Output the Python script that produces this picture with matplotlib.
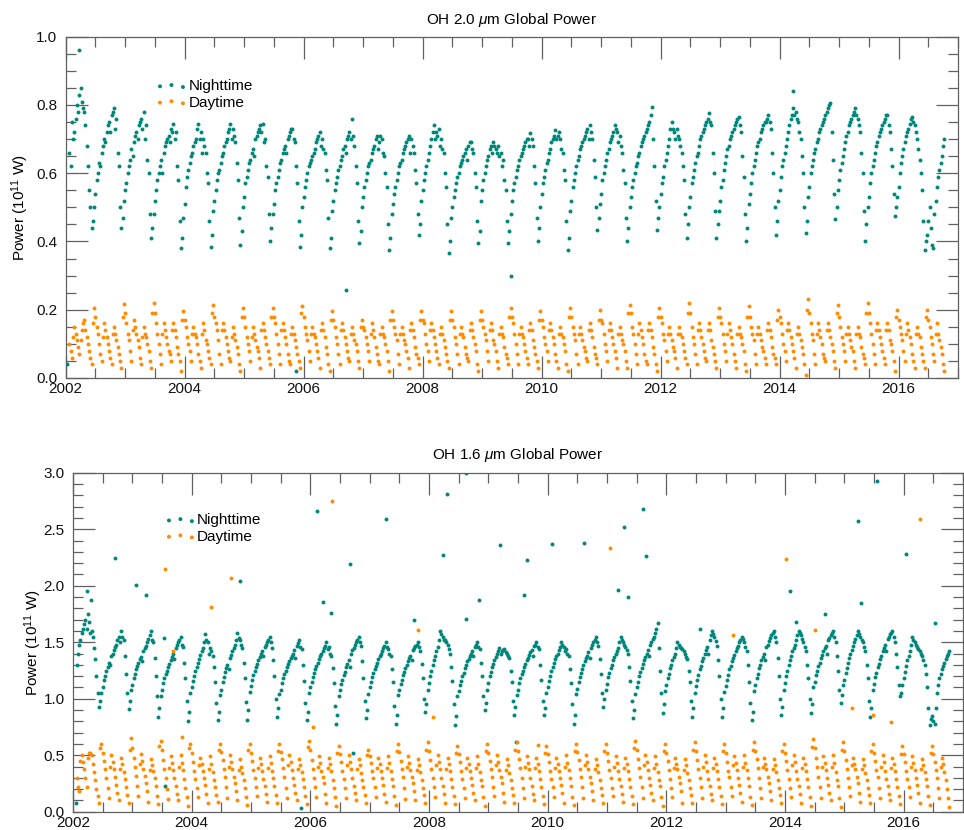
import numpy as np
import matplotlib
matplotlib.use("Agg")
import matplotlib.pyplot as plt
from matplotlib.ticker import MultipleLocator, FormatStrFormatter

plt.rcParams['font.family'] = ['Liberation Sans', 'DejaVu Sans']
plt.rcParams['mathtext.fontset'] = 'custom'
plt.rcParams['mathtext.rm'] = 'Liberation Sans'
plt.rcParams['mathtext.it'] = 'Liberation Sans:italic'

# ---- sampling: start date (decimal year) and step (years); "_b" lists are offset by half a step ----
T0 = 2002.0625
STEP = 1.0 / 24.0

# ---- OH 2.0 um, nighttime ----
top_night = [
    0.66, 0.75, 0.72, 0.80, 0.83, 0.81, 0.78, 0.68, 0.55, 0.44,
    0.50, 0.58, 0.63, 0.66, 0.70, 0.72, 0.75, 0.77, 0.79, 0.76, 0.62, 0.44,
    0.52, 0.57, 0.62, 0.67, 0.69, 0.72, 0.74, 0.76, 0.78, 0.74, 0.60, 0.41,
    0.48, 0.55, 0.60, 0.64, 0.66, 0.69, 0.71, 0.73, 0.745, 0.72, 0.58, 0.38,
    0.47, 0.56, 0.61, 0.65, 0.68, 0.70, 0.745, 0.72, 0.70, 0.66, 0.57, 0.385,
    0.49, 0.55, 0.60, 0.63, 0.66, 0.69, 0.72, 0.745, 0.73, 0.69, 0.58, 0.39,
    0.50, 0.57, 0.61, 0.64, 0.67, 0.70, 0.72, 0.74, 0.745, 0.70, 0.59, 0.40,
    0.48, 0.55, 0.59, 0.63, 0.66, 0.68, 0.70, 0.72, 0.73, 0.69, 0.57, 0.385,
    0.50, 0.56, 0.60, 0.63, 0.65, 0.67, 0.70, 0.72, 0.70, 0.66, 0.58, 0.38,
    0.49, 0.55, 0.59, 0.62, 0.65, 0.68, 0.70, 0.72, 0.76, 0.68, 0.57, 0.395,
    0.50, 0.56, 0.60, 0.63, 0.66, 0.68, 0.71, 0.69, 0.70, 0.65, 0.56, 0.375,
    0.48, 0.54, 0.58, 0.62, 0.64, 0.67, 0.69, 0.71, 0.70, 0.66, 0.57, 0.42,
    0.52, 0.58, 0.62, 0.66, 0.70, 0.74, 0.72, 0.73, 0.70, 0.66, 0.56, 0.365,
    0.47, 0.53, 0.57, 0.60, 0.63, 0.65, 0.67, 0.68, 0.69, 0.66, 0.56, 0.395,
    0.52, 0.58, 0.62, 0.65, 0.68, 0.69, 0.67, 0.68, 0.66, 0.64, 0.55, 0.395,
    0.48, 0.55, 0.59, 0.62, 0.65, 0.67, 0.69, 0.70, 0.717, 0.68, 0.57, 0.40,
    0.50, 0.57, 0.61, 0.64, 0.67, 0.70, 0.727, 0.71, 0.70, 0.66, 0.58, 0.375,
    0.49, 0.56, 0.60, 0.64, 0.67, 0.69, 0.71, 0.73, 0.74, 0.70, 0.59, 0.435,
    0.51, 0.58, 0.62, 0.66, 0.69, 0.71, 0.74, 0.72, 0.71, 0.66, 0.57, 0.40,
    0.50, 0.56, 0.60, 0.63, 0.66, 0.69, 0.71, 0.73, 0.75, 0.795, 0.62, 0.435,
    0.50, 0.57, 0.62, 0.66, 0.70, 0.75, 0.72, 0.73, 0.70, 0.66, 0.58, 0.41,
    0.50, 0.57, 0.61, 0.65, 0.68, 0.71, 0.73, 0.75, 0.775, 0.74, 0.60, 0.41,
    0.49, 0.56, 0.61, 0.65, 0.68, 0.71, 0.73, 0.75, 0.765, 0.72, 0.59, 0.40,
    0.51, 0.57, 0.62, 0.66, 0.69, 0.72, 0.74, 0.75, 0.77, 0.73, 0.60, 0.42,
    0.52, 0.59, 0.64, 0.68, 0.72, 0.76, 0.79, 0.78, 0.75, 0.70, 0.60, 0.425,
    0.53, 0.60, 0.64, 0.67, 0.70, 0.73, 0.75, 0.77, 0.79, 0.805, 0.64, 0.465,
    0.55, 0.61, 0.65, 0.69, 0.72, 0.75, 0.77, 0.79, 0.76, 0.72, 0.60, 0.40,
    0.50, 0.57, 0.62, 0.66, 0.69, 0.72, 0.74, 0.76, 0.77, 0.72, 0.62, 0.475,
    0.53, 0.60, 0.65, 0.69, 0.72, 0.745, 0.765, 0.74, 0.70, 0.64, 0.55, 0.375,
    0.42, 0.50, 0.39, 0.48, 0.56, 0.61, 0.65, 0.70,
]
top_night_b = [
    0.62, 0.70, 0.76, 0.78, 0.85, 0.79, 0.74, 0.62, 0.50, 0.46,
    0.54, 0.60, 0.62, 0.68, 0.69, 0.74, 0.72, 0.78, 0.73, 0.66, 0.50, 0.47,
    0.55, 0.60, 0.64, 0.65, 0.71, 0.70, 0.75, 0.73, 0.70, 0.64, 0.48, 0.44,
    0.52, 0.58, 0.62, 0.60, 0.68, 0.70, 0.69, 0.72, 0.70, 0.62, 0.46, 0.41,
    0.51, 0.59, 0.63, 0.66, 0.69, 0.73, 0.70, 0.66, 0.68, 0.60, 0.46, 0.42,
    0.52, 0.58, 0.61, 0.65, 0.68, 0.70, 0.73, 0.70, 0.71, 0.63, 0.47, 0.43,
    0.53, 0.59, 0.63, 0.66, 0.65, 0.71, 0.73, 0.72, 0.69, 0.62, 0.48, 0.44,
    0.51, 0.57, 0.61, 0.64, 0.67, 0.66, 0.71, 0.73, 0.70, 0.62, 0.46, 0.42,
    0.53, 0.58, 0.62, 0.64, 0.66, 0.69, 0.71, 0.68, 0.67, 0.61, 0.47, 0.41,
    0.52, 0.57, 0.61, 0.64, 0.67, 0.66, 0.71, 0.70, 0.71, 0.62, 0.46, 0.43,
    0.53, 0.58, 0.62, 0.64, 0.67, 0.70, 0.67, 0.71, 0.66, 0.60, 0.45, 0.41,
    0.51, 0.56, 0.60, 0.63, 0.66, 0.68, 0.70, 0.66, 0.68, 0.61, 0.48, 0.45,
    0.55, 0.60, 0.64, 0.68, 0.72, 0.70, 0.71, 0.68, 0.67, 0.60, 0.45, 0.40,
    0.50, 0.55, 0.59, 0.62, 0.64, 0.66, 0.64, 0.69, 0.67, 0.60, 0.46, 0.43,
    0.55, 0.60, 0.64, 0.67, 0.66, 0.68, 0.66, 0.65, 0.62, 0.58, 0.46, 0.43,
    0.52, 0.57, 0.61, 0.64, 0.66, 0.68, 0.70, 0.68, 0.70, 0.62, 0.47, 0.44,
    0.54, 0.59, 0.63, 0.66, 0.69, 0.71, 0.70, 0.72, 0.67, 0.61, 0.46, 0.41,
    0.52, 0.58, 0.62, 0.65, 0.68, 0.70, 0.72, 0.70, 0.72, 0.64, 0.50, 0.47,
    0.54, 0.60, 0.64, 0.67, 0.70, 0.72, 0.73, 0.69, 0.68, 0.61, 0.47, 0.44,
    0.53, 0.58, 0.62, 0.65, 0.68, 0.70, 0.72, 0.74, 0.77, 0.70, 0.52, 0.47,
    0.54, 0.59, 0.64, 0.68, 0.73, 0.73, 0.70, 0.71, 0.68, 0.62, 0.48, 0.45,
    0.53, 0.59, 0.63, 0.66, 0.70, 0.72, 0.74, 0.76, 0.75, 0.66, 0.49, 0.45,
    0.52, 0.58, 0.63, 0.67, 0.70, 0.72, 0.74, 0.76, 0.74, 0.65, 0.48, 0.44,
    0.54, 0.60, 0.64, 0.68, 0.70, 0.73, 0.75, 0.76, 0.75, 0.66, 0.50, 0.46,
    0.55, 0.62, 0.66, 0.70, 0.74, 0.77, 0.77, 0.76, 0.72, 0.65, 0.50, 0.46,
    0.56, 0.62, 0.66, 0.69, 0.72, 0.74, 0.76, 0.78, 0.80, 0.72, 0.54, 0.50,
    0.58, 0.63, 0.67, 0.71, 0.74, 0.76, 0.78, 0.77, 0.74, 0.66, 0.49, 0.45,
    0.53, 0.60, 0.64, 0.68, 0.71, 0.73, 0.75, 0.77, 0.74, 0.67, 0.54, 0.50,
    0.56, 0.63, 0.67, 0.71, 0.73, 0.76, 0.75, 0.72, 0.67, 0.60, 0.46, 0.40,
    0.46, 0.44, 0.38, 0.52, 0.59, 0.63, 0.68,
]

# ---- OH 2.0 um, daytime ----
top_day = [
    0.10, 0.06, 0.15, 0.11, 0.07, 0.14, 0.17, 0.12, 0.08, 0.04,
    0.205, 0.15, 0.10, 0.05, 0.16, 0.12, 0.08, 0.04, 0.15, 0.11, 0.07, 0.03,
    0.218, 0.16, 0.11, 0.05, 0.17, 0.13, 0.09, 0.04, 0.15, 0.12, 0.08, 0.03,
    0.22, 0.16, 0.10, 0.04, 0.16, 0.12, 0.08, 0.05, 0.16, 0.12, 0.07, 0.02,
    0.195, 0.15, 0.10, 0.05, 0.15, 0.12, 0.07, 0.03, 0.16, 0.11, 0.08, 0.04,
    0.215, 0.16, 0.11, 0.04, 0.16, 0.12, 0.08, 0.05, 0.15, 0.11, 0.07, 0.02,
    0.205, 0.15, 0.10, 0.05, 0.15, 0.11, 0.08, 0.03, 0.16, 0.12, 0.08, 0.04,
    0.205, 0.16, 0.10, 0.04, 0.16, 0.12, 0.07, 0.04, 0.15, 0.11, 0.07, 0.03,
    0.21, 0.15, 0.11, 0.05, 0.15, 0.12, 0.08, 0.03, 0.16, 0.12, 0.07, 0.02,
    0.195, 0.15, 0.10, 0.04, 0.16, 0.12, 0.08, 0.05, 0.15, 0.11, 0.08, 0.03,
    0.17, 0.14, 0.10, 0.05, 0.16, 0.12, 0.07, 0.04, 0.15, 0.12, 0.08, 0.02,
    0.195, 0.15, 0.11, 0.04, 0.15, 0.11, 0.08, 0.03, 0.16, 0.12, 0.07, 0.04,
    0.195, 0.16, 0.10, 0.05, 0.16, 0.12, 0.08, 0.04, 0.15, 0.11, 0.07, 0.03,
    0.195, 0.15, 0.10, 0.04, 0.15, 0.12, 0.07, 0.05, 0.16, 0.12, 0.08, 0.02,
    0.195, 0.15, 0.11, 0.05, 0.16, 0.11, 0.08, 0.03, 0.15, 0.12, 0.07, 0.04,
    0.205, 0.16, 0.10, 0.04, 0.15, 0.12, 0.08, 0.04, 0.16, 0.11, 0.07, 0.03,
    0.195, 0.15, 0.10, 0.05, 0.16, 0.12, 0.07, 0.03, 0.15, 0.12, 0.08, 0.02,
    0.205, 0.15, 0.11, 0.04, 0.15, 0.11, 0.08, 0.05, 0.16, 0.12, 0.07, 0.04,
    0.20, 0.16, 0.10, 0.05, 0.16, 0.12, 0.08, 0.03, 0.15, 0.11, 0.08, 0.03,
    0.215, 0.15, 0.10, 0.04, 0.16, 0.12, 0.07, 0.04, 0.16, 0.12, 0.07, 0.02,
    0.205, 0.16, 0.11, 0.05, 0.15, 0.11, 0.08, 0.03, 0.15, 0.12, 0.08, 0.04,
    0.22, 0.15, 0.10, 0.04, 0.16, 0.12, 0.08, 0.05, 0.16, 0.11, 0.07, 0.03,
    0.205, 0.16, 0.10, 0.05, 0.16, 0.12, 0.07, 0.03, 0.15, 0.12, 0.08, 0.02,
    0.21, 0.15, 0.11, 0.04, 0.15, 0.11, 0.08, 0.04, 0.16, 0.12, 0.07, 0.04,
    0.20, 0.16, 0.10, 0.05, 0.16, 0.12, 0.08, 0.03, 0.15, 0.11, 0.07, 0.01,
    0.23, 0.16, 0.11, 0.04, 0.16, 0.12, 0.07, 0.05, 0.16, 0.12, 0.08, 0.03,
    0.215, 0.15, 0.10, 0.05, 0.15, 0.11, 0.08, 0.03, 0.15, 0.12, 0.07, 0.04,
    0.22, 0.16, 0.10, 0.04, 0.16, 0.12, 0.08, 0.04, 0.16, 0.11, 0.08, 0.02,
    0.20, 0.15, 0.11, 0.05, 0.16, 0.12, 0.07, 0.03, 0.15, 0.12, 0.07, 0.03,
    0.20, 0.15, 0.10, 0.05, 0.16, 0.11, 0.07, 0.02,
]
top_day_b = [
    0.08, 0.12, 0.13, 0.09, 0.11, 0.16, 0.14, 0.10, 0.06, 0.16,
    0.18, 0.13, 0.07, 0.12, 0.14, 0.10, 0.06, 0.13, 0.13, 0.09, 0.05, 0.18,
    0.19, 0.13, 0.08, 0.14, 0.15, 0.11, 0.06, 0.12, 0.13, 0.10, 0.05, 0.19,
    0.19, 0.13, 0.07, 0.13, 0.14, 0.10, 0.07, 0.14, 0.14, 0.09, 0.05, 0.17,
    0.17, 0.12, 0.08, 0.13, 0.13, 0.10, 0.05, 0.13, 0.14, 0.10, 0.06, 0.19,
    0.18, 0.14, 0.07, 0.14, 0.14, 0.10, 0.06, 0.12, 0.13, 0.09, 0.04, 0.18,
    0.18, 0.12, 0.08, 0.12, 0.13, 0.09, 0.06, 0.14, 0.14, 0.10, 0.06, 0.18,
    0.18, 0.13, 0.07, 0.14, 0.14, 0.10, 0.05, 0.13, 0.13, 0.09, 0.05, 0.19,
    0.18, 0.13, 0.08, 0.13, 0.13, 0.10, 0.06, 0.14, 0.14, 0.09, 0.04, 0.17,
    0.17, 0.12, 0.07, 0.14, 0.14, 0.10, 0.06, 0.13, 0.13, 0.10, 0.05, 0.15,
    0.15, 0.12, 0.08, 0.13, 0.14, 0.09, 0.05, 0.13, 0.13, 0.10, 0.05, 0.17,
    0.17, 0.13, 0.07, 0.13, 0.13, 0.10, 0.06, 0.14, 0.14, 0.09, 0.06, 0.17,
    0.17, 0.13, 0.08, 0.14, 0.14, 0.10, 0.06, 0.13, 0.13, 0.09, 0.05, 0.17,
    0.17, 0.12, 0.07, 0.13, 0.13, 0.09, 0.06, 0.14, 0.14, 0.10, 0.04, 0.17,
    0.17, 0.13, 0.08, 0.14, 0.14, 0.10, 0.05, 0.13, 0.13, 0.09, 0.06, 0.18,
    0.18, 0.13, 0.07, 0.13, 0.13, 0.10, 0.06, 0.14, 0.14, 0.09, 0.05, 0.17,
    0.17, 0.12, 0.08, 0.14, 0.14, 0.10, 0.05, 0.13, 0.13, 0.10, 0.04, 0.18,
    0.18, 0.13, 0.07, 0.13, 0.13, 0.09, 0.06, 0.14, 0.14, 0.09, 0.06, 0.17,
    0.17, 0.13, 0.08, 0.14, 0.14, 0.10, 0.06, 0.13, 0.13, 0.10, 0.05, 0.19,
    0.19, 0.13, 0.07, 0.13, 0.14, 0.10, 0.05, 0.14, 0.14, 0.09, 0.04, 0.18,
    0.18, 0.13, 0.08, 0.13, 0.13, 0.09, 0.06, 0.13, 0.13, 0.10, 0.06, 0.19,
    0.19, 0.12, 0.07, 0.14, 0.14, 0.10, 0.06, 0.14, 0.14, 0.09, 0.05, 0.18,
    0.18, 0.13, 0.08, 0.13, 0.14, 0.10, 0.05, 0.13, 0.13, 0.10, 0.04, 0.18,
    0.18, 0.13, 0.07, 0.13, 0.13, 0.09, 0.06, 0.14, 0.14, 0.09, 0.06, 0.17,
    0.18, 0.13, 0.08, 0.14, 0.14, 0.10, 0.06, 0.13, 0.13, 0.09, 0.04, 0.20,
    0.19, 0.13, 0.07, 0.13, 0.14, 0.10, 0.06, 0.14, 0.14, 0.10, 0.05, 0.19,
    0.18, 0.12, 0.08, 0.13, 0.13, 0.09, 0.05, 0.13, 0.13, 0.09, 0.06, 0.19,
    0.19, 0.13, 0.07, 0.14, 0.14, 0.10, 0.06, 0.14, 0.14, 0.10, 0.05, 0.18,
    0.17, 0.13, 0.08, 0.13, 0.14, 0.10, 0.05, 0.13, 0.13, 0.09, 0.05, 0.18,
    0.17, 0.12, 0.07, 0.13, 0.13, 0.09, 0.04,
]

# isolated points, OH 2.0 um
top_night_out_t = [2002.02, 2002.23, 2005.87, 2006.72, 2009.48, 2014.23]
top_night_out_v = [0.04, 0.96, 0.021, 0.257, 0.30, 0.84]

# ---- OH 1.6 um, nighttime ----
bot_night = [
    1.30, 1.48, 1.58, 1.66, 1.62, 1.68, 1.60, 1.45, 1.20, 0.93,
    1.05, 1.17, 1.25, 1.32, 1.38, 1.43, 1.48, 1.55, 1.60, 1.52, 1.22, 0.91,
    1.08, 1.18, 1.26, 1.32, 1.37, 1.42, 1.47, 1.53, 1.60, 1.50, 1.20, 0.84,
    1.02, 1.14, 1.22, 1.28, 1.34, 1.40, 1.45, 1.50, 1.55, 1.46, 1.18, 0.80,
    1.05, 1.16, 1.25, 1.32, 1.39, 1.45, 1.57, 1.50, 1.45, 1.38, 1.15, 0.81,
    1.03, 1.15, 1.24, 1.30, 1.36, 1.42, 1.48, 1.58, 1.52, 1.45, 1.18, 0.81,
    1.06, 1.17, 1.25, 1.31, 1.37, 1.42, 1.46, 1.50, 1.55, 1.45, 1.20, 0.84,
    1.04, 1.14, 1.22, 1.28, 1.33, 1.38, 1.43, 1.47, 1.52, 1.44, 1.16, 0.81,
    1.05, 1.15, 1.23, 1.29, 1.35, 1.40, 1.45, 1.50, 1.46, 1.38, 1.14, 0.78,
    1.02, 1.13, 1.21, 1.28, 1.34, 1.40, 1.45, 1.50, 1.55, 1.47, 1.18, 0.83,
    1.04, 1.15, 1.23, 1.29, 1.35, 1.40, 1.45, 1.50, 1.44, 1.38, 1.15, 0.78,
    1.03, 1.13, 1.21, 1.27, 1.33, 1.38, 1.43, 1.47, 1.50, 1.42, 1.18, 0.88,
    1.08, 1.20, 1.30, 1.38, 1.46, 1.60, 1.55, 1.52, 1.48, 1.40, 1.16, 0.77,
    1.02, 1.12, 1.20, 1.27, 1.33, 1.38, 1.42, 1.46, 1.50, 1.44, 1.20, 0.90,
    1.08, 1.20, 1.28, 1.34, 1.40, 1.45, 1.42, 1.44, 1.40, 1.36, 1.15, 0.855,
    1.03, 1.14, 1.22, 1.28, 1.34, 1.39, 1.43, 1.47, 1.50, 1.44, 1.17, 0.855,
    1.05, 1.16, 1.25, 1.32, 1.38, 1.43, 1.50, 1.46, 1.44, 1.38, 1.14, 0.78,
    1.04, 1.15, 1.23, 1.30, 1.36, 1.41, 1.45, 1.50, 1.55, 1.47, 1.22, 0.93,
    1.08, 1.19, 1.27, 1.34, 1.40, 1.45, 1.55, 1.50, 1.46, 1.40, 1.16, 0.83,
    1.04, 1.15, 1.24, 1.31, 1.37, 1.43, 1.48, 1.53, 1.58, 1.67, 1.25, 0.87,
    1.07, 1.18, 1.27, 1.34, 1.40, 1.50, 1.46, 1.44, 1.40, 1.35, 1.15, 0.84,
    1.05, 1.17, 1.26, 1.33, 1.40, 1.46, 1.52, 1.60, 1.55, 1.47, 1.20, 0.84,
    1.06, 1.17, 1.26, 1.33, 1.39, 1.45, 1.50, 1.55, 1.50, 1.42, 1.15, 0.81,
    1.07, 1.18, 1.27, 1.34, 1.40, 1.46, 1.51, 1.56, 1.60, 1.50, 1.20, 0.855,
    1.08, 1.20, 1.30, 1.38, 1.45, 1.52, 1.60, 1.56, 1.50, 1.42, 1.18, 0.87,
    1.10, 1.21, 1.29, 1.36, 1.42, 1.47, 1.52, 1.56, 1.60, 1.50, 1.25, 0.96,
    1.12, 1.23, 1.32, 1.40, 1.47, 1.53, 1.60, 1.55, 1.50, 1.42, 1.18, 0.84,
    1.08, 1.19, 1.28, 1.35, 1.42, 1.48, 1.53, 1.57, 1.60, 1.50, 1.28, 1.02,
    1.12, 1.24, 1.34, 1.42, 1.55, 1.50, 1.46, 1.42, 1.38, 1.30, 1.10, 0.77,
    0.85, 0.78, 1.05, 1.18, 1.26, 1.32, 1.38, 1.42,
]
bot_night_b = [
    1.40, 1.52, 1.62, 1.70, 1.75, 1.58, 1.55, 1.35, 1.05, 0.98,
    1.10, 1.20, 1.28, 1.30, 1.40, 1.46, 1.52, 1.50, 1.55, 1.38, 1.05, 0.98,
    1.12, 1.22, 1.29, 1.35, 1.33, 1.45, 1.50, 1.56, 1.52, 1.36, 1.02, 0.92,
    1.08, 1.18, 1.25, 1.31, 1.37, 1.35, 1.48, 1.52, 1.48, 1.32, 0.98, 0.88,
    1.10, 1.20, 1.28, 1.35, 1.42, 1.50, 1.52, 1.40, 1.42, 1.28, 0.96, 0.88,
    1.08, 1.19, 1.27, 1.26, 1.39, 1.45, 1.52, 1.54, 1.48, 1.32, 0.97, 0.90,
    1.11, 1.21, 1.28, 1.34, 1.40, 1.38, 1.48, 1.52, 1.50, 1.34, 1.00, 0.92,
    1.08, 1.18, 1.25, 1.31, 1.36, 1.40, 1.36, 1.49, 1.46, 1.30, 0.96, 0.88,
    1.10, 1.19, 1.26, 1.32, 1.38, 1.42, 1.47, 1.44, 1.40, 1.27, 0.94, 0.86,
    1.08, 1.17, 1.24, 1.31, 1.28, 1.43, 1.48, 1.52, 1.50, 1.33, 0.98, 0.90,
    1.10, 1.19, 1.26, 1.32, 1.38, 1.42, 1.47, 1.46, 1.40, 1.26, 0.94, 0.86,
    1.08, 1.17, 1.24, 1.30, 1.36, 1.34, 1.45, 1.48, 1.46, 1.31, 1.00, 0.95,
    1.14, 1.25, 1.34, 1.42, 1.52, 1.57, 1.52, 1.50, 1.44, 1.28, 0.95, 0.85,
    1.07, 1.16, 1.23, 1.30, 1.35, 1.40, 1.38, 1.48, 1.46, 1.32, 1.02, 0.96,
    1.14, 1.24, 1.31, 1.37, 1.42, 1.40, 1.43, 1.41, 1.38, 1.25, 0.98, 0.93,
    1.08, 1.18, 1.25, 1.31, 1.36, 1.41, 1.38, 1.48, 1.46, 1.30, 0.98, 0.92,
    1.10, 1.20, 1.28, 1.35, 1.40, 1.46, 1.48, 1.42, 1.40, 1.26, 0.95, 0.86,
    1.09, 1.19, 1.26, 1.33, 1.38, 1.36, 1.48, 1.52, 1.50, 1.35, 1.05, 1.00,
    1.13, 1.23, 1.30, 1.37, 1.42, 1.50, 1.52, 1.48, 1.43, 1.28, 0.98, 0.90,
    1.10, 1.20, 1.27, 1.34, 1.40, 1.38, 1.50, 1.55, 1.62, 1.45, 1.05, 0.95,
    1.12, 1.22, 1.30, 1.37, 1.45, 1.48, 1.45, 1.42, 1.37, 1.25, 0.98, 0.92,
    1.11, 1.21, 1.29, 1.36, 1.43, 1.40, 1.56, 1.57, 1.51, 1.34, 1.00, 0.92,
    1.11, 1.21, 1.29, 1.36, 1.42, 1.47, 1.52, 1.53, 1.46, 1.30, 0.96, 0.88,
    1.12, 1.22, 1.30, 1.37, 1.34, 1.48, 1.54, 1.58, 1.55, 1.36, 1.00, 0.93,
    1.14, 1.25, 1.34, 1.42, 1.48, 1.56, 1.58, 1.53, 1.46, 1.30, 1.00, 0.95,
    1.15, 1.25, 1.32, 1.39, 1.45, 1.40, 1.54, 1.58, 1.55, 1.38, 1.08, 1.03,
    1.17, 1.27, 1.36, 1.43, 1.50, 1.56, 1.57, 1.52, 1.46, 1.30, 0.98, 0.92,
    1.13, 1.23, 1.31, 1.38, 1.45, 1.42, 1.55, 1.58, 1.55, 1.40, 1.12, 1.05,
    1.18, 1.29, 1.38, 1.48, 1.52, 1.48, 1.44, 1.40, 1.34, 1.22, 0.92, 0.82,
    0.80, 0.92, 1.12, 1.22, 1.29, 1.35, 1.40,
]

# ---- OH 1.6 um, daytime ----
bot_day = [
    0.30, 0.18, 0.50, 0.38, 0.22, 0.52, 0.50, 0.35, 0.20, 0.08,
    0.60, 0.45, 0.30, 0.12, 0.50, 0.38, 0.24, 0.10, 0.48, 0.35, 0.22, 0.08,
    0.65, 0.48, 0.32, 0.14, 0.51, 0.38, 0.25, 0.09, 0.47, 0.36, 0.23, 0.07,
    0.63, 0.46, 0.30, 0.11, 0.49, 0.37, 0.23, 0.10, 0.50, 0.37, 0.21, 0.05,
    0.60, 0.44, 0.29, 0.13, 0.48, 0.36, 0.24, 0.08, 0.49, 0.35, 0.22, 0.09,
    0.60, 0.46, 0.31, 0.12, 0.50, 0.38, 0.25, 0.10, 0.47, 0.34, 0.21, 0.06,
    0.60, 0.45, 0.30, 0.14, 0.48, 0.36, 0.23, 0.09, 0.49, 0.36, 0.23, 0.08,
    0.60, 0.47, 0.31, 0.12, 0.50, 0.37, 0.24, 0.10, 0.47, 0.35, 0.22, 0.07,
    0.63, 0.46, 0.30, 0.13, 0.49, 0.36, 0.25, 0.08, 0.48, 0.36, 0.21, 0.05,
    0.58, 0.44, 0.29, 0.12, 0.50, 0.38, 0.23, 0.10, 0.47, 0.34, 0.22, 0.08,
    0.55, 0.43, 0.30, 0.13, 0.48, 0.36, 0.24, 0.09, 0.49, 0.36, 0.23, 0.06,
    0.60, 0.45, 0.31, 0.11, 0.49, 0.37, 0.25, 0.10, 0.47, 0.35, 0.21, 0.08,
    0.62, 0.46, 0.30, 0.13, 0.50, 0.38, 0.23, 0.08, 0.48, 0.36, 0.22, 0.07,
    0.58, 0.44, 0.29, 0.12, 0.48, 0.36, 0.24, 0.10, 0.49, 0.35, 0.23, 0.05,
    0.60, 0.45, 0.31, 0.14, 0.50, 0.37, 0.25, 0.09, 0.47, 0.34, 0.21, 0.08,
    0.62, 0.47, 0.30, 0.12, 0.49, 0.38, 0.23, 0.10, 0.48, 0.36, 0.22, 0.07,
    0.58, 0.44, 0.29, 0.13, 0.48, 0.36, 0.24, 0.08, 0.50, 0.37, 0.23, 0.06,
    0.60, 0.46, 0.31, 0.12, 0.50, 0.38, 0.25, 0.10, 0.47, 0.35, 0.21, 0.08,
    0.60, 0.45, 0.30, 0.14, 0.49, 0.36, 0.23, 0.09, 0.48, 0.36, 0.22, 0.07,
    0.63, 0.47, 0.31, 0.12, 0.50, 0.37, 0.24, 0.10, 0.49, 0.35, 0.23, 0.05,
    0.60, 0.45, 0.29, 0.13, 0.48, 0.38, 0.25, 0.08, 0.47, 0.34, 0.21, 0.08,
    0.62, 0.46, 0.30, 0.12, 0.50, 0.36, 0.23, 0.10, 0.48, 0.36, 0.22, 0.07,
    0.60, 0.44, 0.31, 0.14, 0.49, 0.37, 0.24, 0.09, 0.50, 0.37, 0.23, 0.06,
    0.62, 0.47, 0.30, 0.12, 0.48, 0.38, 0.25, 0.10, 0.47, 0.35, 0.21, 0.08,
    0.60, 0.45, 0.29, 0.13, 0.50, 0.36, 0.23, 0.08, 0.48, 0.36, 0.22, 0.05,
    0.64, 0.48, 0.31, 0.12, 0.49, 0.37, 0.24, 0.10, 0.50, 0.35, 0.23, 0.04,
    0.62, 0.46, 0.30, 0.14, 0.48, 0.38, 0.25, 0.09, 0.47, 0.34, 0.21, 0.08,
    0.60, 0.45, 0.31, 0.12, 0.50, 0.36, 0.23, 0.10, 0.48, 0.36, 0.22, 0.07,
    0.58, 0.44, 0.29, 0.13, 0.49, 0.37, 0.24, 0.08, 0.47, 0.35, 0.23, 0.06,
    0.58, 0.44, 0.30, 0.12, 0.48, 0.35, 0.20, 0.04,
]
bot_day_b = [
    0.22, 0.45, 0.44, 0.30, 0.48, 0.52, 0.42, 0.28, 0.14, 0.56,
    0.52, 0.38, 0.21, 0.40, 0.44, 0.31, 0.17, 0.38, 0.42, 0.29, 0.15, 0.55,
    0.56, 0.40, 0.23, 0.42, 0.45, 0.32, 0.18, 0.37, 0.41, 0.30, 0.14, 0.58,
    0.55, 0.38, 0.20, 0.39, 0.43, 0.30, 0.16, 0.40, 0.43, 0.29, 0.13, 0.56,
    0.52, 0.36, 0.21, 0.41, 0.42, 0.30, 0.16, 0.38, 0.42, 0.28, 0.15, 0.55,
    0.53, 0.38, 0.22, 0.40, 0.44, 0.31, 0.18, 0.37, 0.40, 0.28, 0.13, 0.55,
    0.52, 0.37, 0.22, 0.39, 0.42, 0.29, 0.16, 0.39, 0.43, 0.30, 0.15, 0.54,
    0.53, 0.39, 0.21, 0.41, 0.44, 0.30, 0.17, 0.38, 0.41, 0.29, 0.14, 0.57,
    0.55, 0.38, 0.22, 0.40, 0.43, 0.31, 0.16, 0.39, 0.42, 0.28, 0.13, 0.52,
    0.51, 0.36, 0.21, 0.41, 0.44, 0.30, 0.17, 0.38, 0.41, 0.28, 0.15, 0.50,
    0.49, 0.36, 0.22, 0.39, 0.42, 0.30, 0.16, 0.39, 0.43, 0.29, 0.14, 0.54,
    0.53, 0.38, 0.21, 0.40, 0.43, 0.31, 0.18, 0.37, 0.41, 0.28, 0.15, 0.55,
    0.54, 0.38, 0.22, 0.41, 0.44, 0.30, 0.16, 0.38, 0.42, 0.29, 0.14, 0.52,
    0.51, 0.36, 0.21, 0.39, 0.42, 0.30, 0.17, 0.39, 0.42, 0.28, 0.13, 0.54,
    0.52, 0.38, 0.22, 0.41, 0.44, 0.31, 0.17, 0.37, 0.41, 0.28, 0.15, 0.55,
    0.54, 0.39, 0.21, 0.40, 0.43, 0.30, 0.16, 0.39, 0.42, 0.29, 0.14, 0.52,
    0.51, 0.36, 0.22, 0.39, 0.42, 0.30, 0.17, 0.40, 0.43, 0.30, 0.13, 0.54,
    0.53, 0.38, 0.22, 0.41, 0.44, 0.31, 0.18, 0.38, 0.41, 0.28, 0.15, 0.54,
    0.52, 0.37, 0.21, 0.40, 0.43, 0.29, 0.16, 0.39, 0.42, 0.29, 0.14, 0.56,
    0.55, 0.39, 0.22, 0.41, 0.44, 0.30, 0.17, 0.39, 0.42, 0.28, 0.13, 0.54,
    0.52, 0.37, 0.21, 0.39, 0.42, 0.31, 0.18, 0.37, 0.41, 0.28, 0.15, 0.55,
    0.54, 0.38, 0.22, 0.40, 0.44, 0.29, 0.16, 0.39, 0.42, 0.29, 0.14, 0.54,
    0.52, 0.36, 0.22, 0.41, 0.43, 0.30, 0.17, 0.40, 0.43, 0.30, 0.13, 0.55,
    0.54, 0.39, 0.21, 0.40, 0.42, 0.31, 0.18, 0.38, 0.41, 0.28, 0.15, 0.54,
    0.52, 0.37, 0.21, 0.41, 0.44, 0.29, 0.16, 0.39, 0.42, 0.29, 0.13, 0.57,
    0.56, 0.40, 0.22, 0.40, 0.43, 0.30, 0.17, 0.40, 0.43, 0.28, 0.12, 0.55,
    0.54, 0.38, 0.22, 0.41, 0.42, 0.31, 0.17, 0.38, 0.41, 0.28, 0.15, 0.54,
    0.52, 0.37, 0.21, 0.40, 0.44, 0.29, 0.16, 0.39, 0.42, 0.29, 0.14, 0.51,
    0.51, 0.36, 0.22, 0.40, 0.43, 0.30, 0.17, 0.38, 0.41, 0.29, 0.14, 0.52,
    0.51, 0.37, 0.21, 0.40, 0.42, 0.28, 0.12,
]

# isolated points, OH 1.6 um
bot_night_out_t = [2002.05, 2002.24, 2002.31, 2002.70, 2003.06, 2003.23, 2003.54, 2003.55,
                   2004.81, 2005.85, 2006.11, 2006.21, 2006.35, 2006.67, 2006.72, 2007.27,
                   2007.75, 2008.23, 2008.30, 2008.62, 2008.62, 2008.85, 2009.20, 2009.47,
                   2009.60, 2009.65, 2010.08, 2010.62, 2011.18, 2011.28, 2011.35, 2011.60,
                   2011.66, 2012.57, 2014.08, 2014.18, 2014.68, 2015.23, 2015.29, 2015.55,
                   2016.04, 2016.53]
bot_night_out_v = [0.08, 1.95, 1.87, 2.25, 2.01, 1.92, 1.54, 0.23,
                   2.04, 0.035, 2.66, 1.86, 1.76, 2.19, 0.52, 2.59,
                   1.70, 2.27, 2.81, 2.995, 1.71, 1.87, 2.36, 0.62,
                   1.92, 2.23, 2.37, 2.38, 1.96, 2.52, 1.90, 2.68,
                   2.26, 1.62, 1.95, 1.68, 1.75, 2.57, 1.85, 2.93,
                   2.28, 1.67]
bot_day_out_t = [2003.55, 2003.68, 2003.84, 2004.33, 2004.66, 2006.05, 2006.36, 2007.82,
                 2008.07, 2009.83, 2011.05, 2013.13, 2014.02, 2014.51, 2015.13, 2015.48,
                 2015.79, 2016.27]
bot_day_out_v = [2.15, 1.42, 0.66, 1.81, 2.07, 0.75, 2.75, 1.61,
                 0.835, 0.59, 2.33, 1.56, 2.24, 1.61, 0.92, 0.86,
                 0.79, 2.59]

NIGHT_C = '#00877c'
DAY_C = '#ff8c00'
AX_C = '#606060'
MS = 8


def times(vals, offset=0.0):
    return T0 + offset + np.arange(len(vals)) * STEP


def panel(ax, night, night_b, day, day_b, n_ot, n_ov, d_ot, d_ov,
          title, ymax, ymaj, ymin, title_pad, legend_xy):
    ax.scatter(times(night), night, s=MS, color=NIGHT_C, lw=0, label='Nighttime', zorder=3)
    ax.scatter(times(night_b, STEP / 2), night_b, s=MS, color=NIGHT_C, lw=0, zorder=3)
    ax.scatter(n_ot, n_ov, s=MS, color=NIGHT_C, lw=0, zorder=3)
    ax.scatter(times(day), day, s=MS, color=DAY_C, lw=0, label='Daytime', zorder=3)
    ax.scatter(times(day_b, STEP / 2), day_b, s=MS, color=DAY_C, lw=0, zorder=3)
    if d_ot:
        ax.scatter(d_ot, d_ov, s=MS, color=DAY_C, lw=0, zorder=3)
    ax.set_xlim(2002, 2017)
    ax.set_ylim(0, ymax)
    ax.xaxis.set_major_locator(MultipleLocator(2))
    ax.xaxis.set_minor_locator(MultipleLocator(0.5))
    ax.yaxis.set_major_locator(MultipleLocator(ymaj))
    ax.yaxis.set_minor_locator(MultipleLocator(ymin))
    ax.yaxis.set_major_formatter(FormatStrFormatter('%.1f'))
    ax.xaxis.set_major_formatter(FormatStrFormatter('%d'))
    ax.tick_params(which='both', direction='in', top=True, right=True,
                   color=AX_C, width=0.9, labelsize=11, labelcolor='#111111')
    ax.tick_params(which='major', length=15.5)
    ax.tick_params(which='minor', length=7.5)
    ax.tick_params(axis='x', which='both', pad=3)
    ax.tick_params(axis='y', which='both', pad=6)
    for sp in ax.spines.values():
        sp.set_color(AX_C)
        sp.set_linewidth(0.9)
    ax.set_title(title, fontsize=11, pad=title_pad)
    ax.set_ylabel('Power (10$^{11}$ W)', fontsize=11)
    ax.legend(loc='upper left', bbox_to_anchor=legend_xy, frameon=False,
              scatterpoints=3, fontsize=11, handlelength=2.1, handletextpad=0.05,
              labelspacing=0.15, borderpad=0, borderaxespad=0, markerscale=1.0)


fig = plt.figure(figsize=(9.64, 8.30), dpi=100)
ax1 = fig.add_axes([0.0681, 0.5446, 0.9257, 0.4112])
ax2 = fig.add_axes([0.0757, 0.0220, 0.9232, 0.4084])

panel(ax1, top_night, top_night_b, top_day, top_day_b,
      top_night_out_t, top_night_out_v, [], [],
      'OH 2.0 $\\mu$m Global Power', 1.0, 0.2, 0.05, 9, (0.1006, 0.875))
ax1.yaxis.set_label_coords(-0.039, 0.5)

panel(ax2, bot_night, bot_night_b, bot_day, bot_day_b,
      bot_night_out_t, bot_night_out_v, bot_day_out_t, bot_day_out_v,
      'OH 1.6 $\\mu$m Global Power', 3.0, 0.5, 0.1, 10, (0.1027, 0.880))
ax2.yaxis.set_label_coords(-0.032, 0.5)

fig.savefig('out.png', dpi=100)
